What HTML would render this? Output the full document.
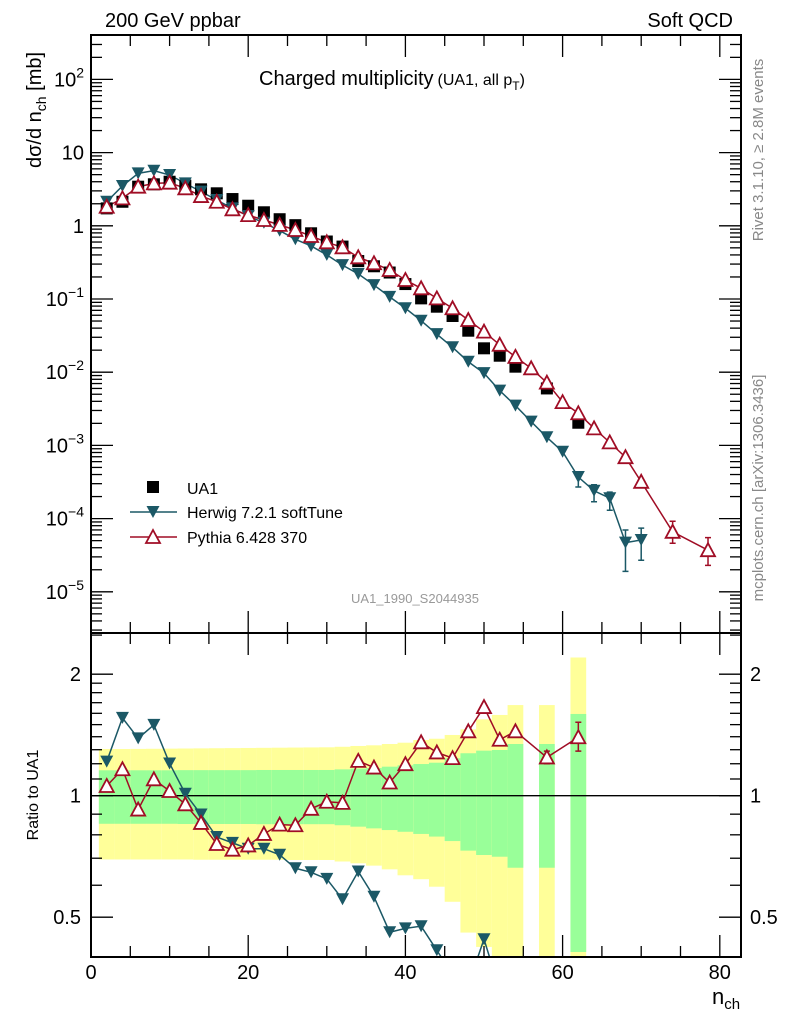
<!DOCTYPE html>
<html><head><meta charset="utf-8"><style>
html,body{margin:0;padding:0;background:#fff;width:786px;height:1024px;overflow:hidden;}
svg{display:block;font-family:"Liberation Sans",sans-serif;}
</style></head><body>
<svg id="chart" width="786" height="1024" viewBox="0 0 786 1024" xmlns="http://www.w3.org/2000/svg">
<defs>
<clipPath id="mainClip"><rect x="91" y="35" width="650" height="598"/></clipPath>
<clipPath id="ratioClip"><rect x="91" y="633" width="650" height="324"/></clipPath>
</defs>
<g id="bands" clip-path="url(#ratioClip)"></g>
<g id="grid"></g>
<g id="series"></g>
<rect x="91" y="35" width="650" height="598" fill="none" stroke="#000" stroke-width="2"/>
<rect x="91" y="633" width="650" height="324" fill="none" stroke="#000" stroke-width="2"/>
<text x="105" y="27" font-size="20">200 GeV ppbar</text>
<text x="733" y="27" font-size="20" text-anchor="end">Soft QCD</text>
<text x="259" y="85" font-size="20">Charged multiplicity<tspan font-size="16" dx="4">(UA1, all p</tspan><tspan font-size="12" dy="5">T</tspan><tspan font-size="16" dy="-5">)</tspan></text>
<text transform="translate(763,150) rotate(-90)" font-size="15" fill="#888" text-anchor="middle">Rivet 3.1.10, ≥ 2.8M events</text>
<text transform="translate(763,488) rotate(-90)" font-size="15" fill="#888" text-anchor="middle">mcplots.cern.ch [arXiv:1306.3436]</text>
<text x="415" y="603" font-size="13" fill="#999" text-anchor="middle">UA1_1990_S2044935</text>
<text transform="translate(41,110) rotate(-90)" font-size="20" text-anchor="middle">dσ/d n<tspan font-size="14" dy="5">ch</tspan><tspan dy="-5"> [mb]</tspan></text>
<text transform="translate(38,795) rotate(-90)" font-size="16" text-anchor="middle">Ratio to UA1</text>
<text x="712" y="1004" font-size="22">n<tspan font-size="15" dy="5">ch</tspan></text>
<g id="legend">
<rect x="147" y="481" width="12" height="12" fill="#000"/>
<text x="187" y="494" font-size="16">UA1</text>
<line x1="130" y1="512" x2="177" y2="512" stroke="#1b5866" stroke-width="1.5"/>
<path d="M146.5,506 L159.5,506 L153,518 Z" fill="#1b5866"/>
<text x="187" y="518" font-size="16">Herwig 7.2.1 softTune</text>
<line x1="130" y1="537" x2="177" y2="537" stroke="#a00d25" stroke-width="1.5"/>
<path d="M153,530 L160,543 L146,543 Z" fill="#fff" stroke="#a00d25" stroke-width="1.8"/>
<text x="187" y="543" font-size="16">Pythia 6.428 370</text>
</g>
</svg>
<script>
// ---- data ----
const ua1N = [2,4,6,8,10,12,14,16,18,20,22,24,26,28,30,32,34,36,38,40,42,44,46,48,50,52,54,58,62];
const ua1Val = [1.73,2.13,3.42,3.69,4.0,3.53,3.15,2.78,2.32,1.88,1.53,1.23,1.02,0.79,0.61,0.52,0.33,0.28,0.23,0.16,0.102,0.0785,0.0586,0.0369,0.0212,0.0168,0.0119,0.006,0.00204];
const herwigN = [2,4,6,8,10,12,14,16,18,20,22,24,26,28,30,32,34,36,38,40,42,44,46,48,50,52,54,56,58,60,62,64,66,68,70];
const herwigVal = [2.13,3.5,5.2,5.66,4.94,3.8,2.93,2.25,1.73,1.36,1.1,0.86,0.654,0.53,0.40,0.29,0.22,0.155,0.107,0.0748,0.0505,0.0331,0.0219,0.0139,0.0097,0.0056,0.0035,0.00211,0.00129,0.00082,0.00037,0.00024,0.00019,0.000047,0.000051];
const herwigErrHi = [0,0,0,0,0,0,0,0,0,0,0,0,0,0,0,0,0,0,0,0,0,0,0,0,0,0,0,0,0,0,0.00041,0.00029,0.00023,0.00007,0.000074];
const herwigErrLo = [0,0,0,0,0,0,0,0,0,0,0,0,0,0,0,0,0,0,0,0,0,0,0,0,0,0,0,0,0,0,0.00027,0.00017,0.00013,0.000019,0.000027];
const pythiaN = [2,4,6,8,10,12,14,16,18,20,22,24,26,28,30,32,34,36,38,40,42,44,46,48,50,52,54,56,58,60,62,64,66,68,70,74,78.5];
const pythiaVal = [1.82,2.37,3.42,3.8,3.88,3.25,2.55,2.13,1.68,1.40,1.2,1.03,0.876,0.725,0.595,0.508,0.371,0.308,0.249,0.182,0.14,0.102,0.0747,0.0516,0.0358,0.0237,0.0162,0.0113,0.0072,0.0039,0.00275,0.00171,0.0011,0.00069,0.000318,0.000066,0.000037];
const pythiaErrHi = [0,0,0,0,0,0,0,0,0,0,0,0,0,0,0,0,0,0,0,0,0,0,0,0,0,0,0,0,0,0,0,0,0,0,0,0.000092,0.000055];
const pythiaErrLo = [0,0,0,0,0,0,0,0,0,0,0,0,0,0,0,0,0,0,0,0,0,0,0,0,0,0,0,0,0,0,0,0,0,0,0,0.000046,0.000023];
const bandYellowUp = [1.305,1.305,1.306,1.307,1.308,1.309,1.31,1.311,1.312,1.313,1.314,1.315,1.316,1.317,1.318,1.322,1.328,1.333,1.343,1.353,1.374,1.384,1.414,1.46,1.546,1.585,1.677,1.677,2.2];
const bandGreenUp = [1.156,1.156,1.156,1.156,1.156,1.157,1.157,1.157,1.157,1.157,1.158,1.158,1.158,1.158,1.158,1.162,1.167,1.171,1.18,1.189,1.198,1.207,1.238,1.274,1.293,1.298,1.343,1.343,1.594];
const bandGreenDn = [0.852,0.852,0.852,0.852,0.852,0.851,0.851,0.851,0.851,0.851,0.85,0.85,0.85,0.85,0.85,0.845,0.838,0.83,0.822,0.814,0.804,0.792,0.772,0.731,0.713,0.706,0.663,0.663,0.41];
const bandYellowDn = [0.695,0.695,0.695,0.695,0.695,0.695,0.694,0.694,0.694,0.694,0.694,0.694,0.693,0.693,0.693,0.687,0.68,0.671,0.657,0.635,0.621,0.595,0.546,0.458,0.422,0.38,0.3,0.3,0.3];
const ratioPythia = [1.057,1.163,0.924,1.098,1.027,0.952,0.856,0.759,0.735,0.753,0.804,0.848,0.845,0.928,0.966,0.96,1.22,1.174,1.078,1.197,1.356,1.28,1.239,1.444,1.658,1.376,1.444,1.244,1.396];
const ratioPythiaErrHi = [0,0,0,0,0,0,0,0,0,0,0,0,0,0,0,0,0,0,0,0,0,0,0,0,0,0,0,1.29,1.52];
const ratioPythiaErrLo = [0,0,0,0,0,0,0,0,0,0,0,0,0,0,0,0,0,0,0,0,0,0,0,0,0,0,0,1.2,1.29];
const ratioHerwig = [1.215,1.559,1.387,1.498,1.202,1.011,0.898,0.79,0.764,0.739,0.739,0.714,0.661,0.646,0.622,0.554,0.649,0.562,0.459,0.469,0.475,0.414,0.36,0.34,0.441,0.33,0.29,0.215,0.18];
const xTickLabels = ["0","20","40","60","80"];
const mainTickExps = [2,1,0,-1,-2,-3,-4,-5];
const ratioTickLabels = ["0.5","1","2"];

// ---- axes ----
const NS = "http://www.w3.org/2000/svg";
const X0 = 91, X1 = 741, PX = 7.86;
function xs(n){ return X0 + n*PX; }
function ym(v){ return 225.8 - 73.2*Math.log10(v); }
function yr(r){ return Math.min(1012, 795.7 - 121.5*Math.log2(r)); }
function mk(tag, attrs, parent){
  const e = document.createElementNS(NS, tag);
  for (const k in attrs) e.setAttribute(k, attrs[k]);
  parent.appendChild(e);
  return e;
}
const grid = document.getElementById('grid');
const series = document.getElementById('series');
const bands = document.getElementById('bands');

for (let v = 0; v <= 82; v += 5) {
  const major = v % 20 === 0;
  const L = major ? 22 : 11;
  const x = xs(v);
  [[35,35+L],[633,633-L],[633,633+L],[957,957-L]].forEach(p => {
    const t = mk('line', {x1:x, x2:x, y1:p[0], y2:p[1], stroke:'#000', 'stroke-width':1.3}, grid);
    
    
  });
}
xTickLabels.forEach(s => {
  const t = mk('text', {x:xs(+s), y:979, 'font-size':20, 'text-anchor':'middle'}, grid);
  t.textContent = s;
  
  
});
for (let e = -6; e <= 2; e++) {
  for (let m = 1; m <= 9; m++) {
    const v = m*Math.pow(10,e);
    const y = ym(v);
    if (y < 36 || y > 632) continue;
    const L = m === 1 ? 22 : 11;
    [[X0, X0+L],[X1, X1-L]].forEach(p => {
      const t = mk('line', {x1:p[0], x2:p[1], y1:y, y2:y, stroke:'#000', 'stroke-width':1.3}, grid);
      
      
    });
  }
}
mainTickExps.forEach(e => {
  const y = ym(Math.pow(10,e)) + 7;
  const t = mk('text', {x:84, y:y, 'font-size':20, 'text-anchor':'end'}, grid);
  if (e === 0) t.textContent = '1';
  else if (e === 1) t.textContent = '10';
  else {
    const a = document.createElementNS(NS,'tspan'); a.textContent = '10'; t.appendChild(a);
    const b = document.createElementNS(NS,'tspan'); b.textContent = e<0 ? '−'+(-e) : ''+e;
    b.setAttribute('font-size','14'); b.setAttribute('dy','-9'); t.appendChild(b);
  }
  
  
});
[0.4,0.5,0.6,0.7,0.8,0.9,1,1.1,1.2,1.3,1.4,1.5,1.6,1.7,1.8,1.9,2,2.5].forEach(r => {
  const y = yr(r);
  if (y < 634 || y > 956) return;
  const L = (r === 0.5 || r === 1 || r === 2) ? 22 : 11;
  [[X0, X0+L],[X1, X1-L]].forEach(p => {
    const t = mk('line', {x1:p[0], x2:p[1], y1:y, y2:y, stroke:'#000', 'stroke-width':1.3}, grid);
    
    
  });
});
ratioTickLabels.forEach(s => {
  const y = yr(+s) + 7;
  const a = mk('text', {x:81, y:y, 'font-size':20, 'text-anchor':'end'}, grid);
  a.textContent = s;
  
  
  const b = mk('text', {x:750, y:y, 'font-size':20}, grid);
  b.textContent = s;
  
  
});

ua1N.forEach((n,i) => {
  const xa = xs(n-1), w = xs(n+1)-xs(n-1);
  const yb = mk('rect', {x:xa, y:yr(bandYellowUp[i]), width:w, height:Math.min(957, yr(bandYellowDn[i]))-yr(bandYellowUp[i]), fill:'#ffff99'}, bands);
  
  
  const gb = mk('rect', {x:xa, y:yr(bandGreenUp[i]), width:w, height:Math.min(957, yr(bandGreenDn[i]))-yr(bandGreenUp[i]), fill:'#99ff99'}, bands);
  
  
});
const one = mk('line', {x1:X0, x2:X1, y1:yr(1), y2:yr(1), stroke:'#000', 'stroke-width':1.3}, grid);



const HC = '#1b5866', PC = '#a00d25';
function downTri(g, x, y){ return mk('path', {d:`M${x-6.5},${y-6} L${x+6.5},${y-6} L${x},${y+6} Z`, fill:HC}, g); }
function upTri(g, x, y){ return mk('path', {d:`M${x},${y-7} L${x+7},${y+6} L${x-7},${y+6} Z`, fill:'#fff', stroke:PC, 'stroke-width':1.8}, g); }

const gMain = mk('g', {'clip-path':'url(#mainClip)'}, series);


const hLine = mk('polyline', {points: herwigN.map((n,i)=>xs(n)+','+ym(herwigVal[i])).join(' '), fill:'none', stroke:HC, 'stroke-width':1.5}, gMain);


herwigN.forEach((n,i) => {
  if (herwigErrHi[i] > 0) {
    const x = xs(n);
    const eb = mk('path', {d:`M${x},${ym(herwigErrHi[i])} V${ym(herwigErrLo[i])} M${x-3},${ym(herwigErrHi[i])} h6 M${x-3},${ym(herwigErrLo[i])} h6`, stroke:HC, 'stroke-width':1.5, fill:'none'}, gMain);
    
    
  }
});
const pLine = mk('polyline', {points: pythiaN.map((n,i)=>xs(n)+','+ym(pythiaVal[i])).join(' '), fill:'none', stroke:PC, 'stroke-width':1.5}, gMain);


pythiaN.forEach((n,i) => {
  if (pythiaErrHi[i] > 0) {
    const x = xs(n);
    const eb = mk('path', {d:`M${x},${ym(pythiaErrHi[i])} V${ym(pythiaErrLo[i])} M${x-3},${ym(pythiaErrHi[i])} h6 M${x-3},${ym(pythiaErrLo[i])} h6`, stroke:PC, 'stroke-width':1.5, fill:'none'}, gMain);
    
    
  }
});
ua1N.forEach((n,i) => {
  const s = mk('rect', {x:xs(n)-6, y:ym(ua1Val[i])-6, width:12, height:12, fill:'#000'}, gMain);
  
  
});
herwigN.forEach((n,i) => {
  const m = downTri(gMain, xs(n), ym(herwigVal[i]));
  
  
});
pythiaN.forEach((n,i) => {
  const m = upTri(gMain, xs(n), ym(pythiaVal[i]));
  
  
});

const gRatio = mk('g', {'clip-path':'url(#ratioClip)'}, series);


const hr = mk('polyline', {points: ua1N.map((n,i)=>xs(n)+','+yr(ratioHerwig[i])).join(' '), fill:'none', stroke:HC, 'stroke-width':1.5}, gRatio);


const pr = mk('polyline', {points: ua1N.map((n,i)=>xs(n)+','+yr(ratioPythia[i])).join(' '), fill:'none', stroke:PC, 'stroke-width':1.5}, gRatio);


ua1N.forEach((n,i) => {
  if (ratioPythiaErrHi[i] > 0) {
    const x = xs(n);
    const eb = mk('path', {d:`M${x},${yr(ratioPythiaErrHi[i])} V${yr(ratioPythiaErrLo[i])} M${x-3},${yr(ratioPythiaErrHi[i])} h6 M${x-3},${yr(ratioPythiaErrLo[i])} h6`, stroke:PC, 'stroke-width':1.5, fill:'none'}, gRatio);
    
    
  }
});
ua1N.forEach((n,i) => {
  const m = downTri(gRatio, xs(n), yr(ratioHerwig[i]));
  
  
});
ua1N.forEach((n,i) => {
  const m = upTri(gRatio, xs(n), yr(ratioPythia[i]));
  
  
});
</script>
</body></html>
